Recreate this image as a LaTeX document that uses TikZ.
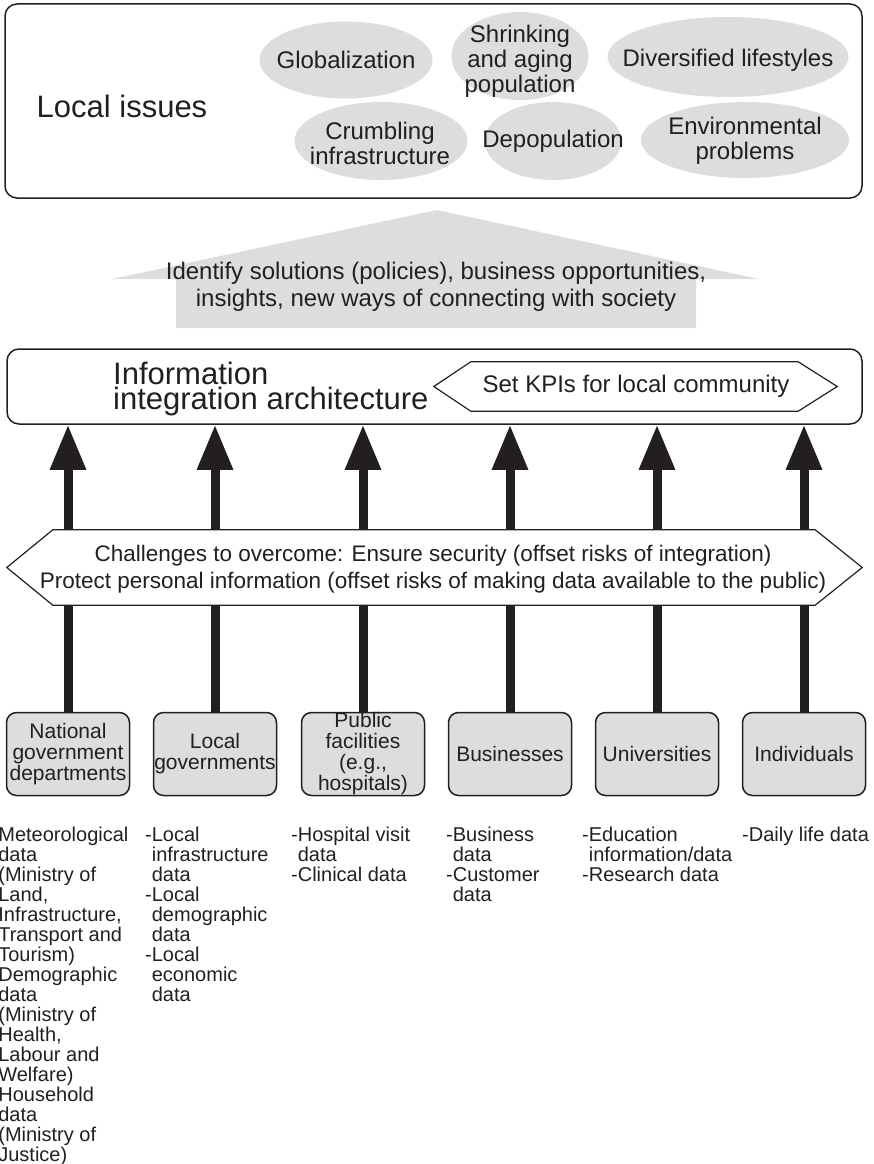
\documentclass[tikz,border=0pt]{standalone}
\usepackage{fontspec}
\setmainfont{Liberation Sans}
\usetikzlibrary{arrows.meta,shapes.geometric}
\definecolor{ink}{HTML}{231F20}
\definecolor{lgray}{HTML}{DCDDDE}
\newcommand\hangsp{\phantom{-}}
\begin{document}
\begin{tikzpicture}[x=1pt,y=-1pt,
  bigbox/.style={draw=ink, line width=1.5pt, rounded corners=12pt, inner sep=0pt},
  ell/.style={ellipse, fill=lgray, inner sep=0pt},
  etext/.style={font=\fontsize{24}{25}\selectfont, align=center, inner sep=0pt, text=ink},
  srcbox/.style={draw=ink, line width=1.5pt, fill=lgray, rounded corners=10pt, minimum width=123pt, minimum height=83pt, inner sep=0pt, font=\fontsize{21}{21}\selectfont, align=center, text=ink},
  datatext/.style={font=\fontsize{20}{20}\selectfont, align=left, anchor=north west, inner sep=0pt, text=ink},
  blk/.style={draw=ink, line width=9pt},
  hexline/.style={draw=ink, line width=1.2pt, fill=white},
]
\clip (0,0) rectangle (874,1164);

% ---- Local issues box
\node[bigbox, minimum width=857pt, minimum height=194pt] (issues) at (433.5,101) {};
\node[etext, font=\fontsize{31}{31}\selectfont] (li) at (122,106) {Local issues};

\node[ell, minimum width=173pt, minimum height=77pt] (e1) at (346,60) {};
\node[etext] at (e1) {Globalization};
\node[ell, minimum width=137pt, minimum height=88pt] (e2) at (520,56) {};
\node[etext] at (520,61) {Shrinking\\and aging\\population};
\node[ell, minimum width=241pt, minimum height=80pt] (e3) at (728,57) {};
\node[etext] at (728,60) {Diversified lifestyles};
\node[ell, minimum width=173pt, minimum height=78pt] (e4) at (381,141) {};
\node[etext] at (380,143) {Crumbling\\infrastructure};
\node[ell, minimum width=137pt, minimum height=78pt] (e5) at (553,141) {};
\node[etext] at (e5) {Depopulation};
\node[ell, minimum width=208pt, minimum height=76pt] (e6) at (745,140) {};
\node[etext] at (745,141) {Environmental\\problems};

% ---- big gray arrow
\fill[lgray] (112,279) -- (437,210) -- (759,279) -- (696,279) -- (696,328) -- (176,328) -- (176,279) -- cycle;
\node[etext, font=\fontsize{24}{27}\selectfont] (ident) at (436,287) {Identify solutions (policies), business opportunities,\\insights, new ways of connecting with society};

% ---- information integration architecture
\node[bigbox, minimum width=855pt, minimum height=75pt] (info) at (434.5,386.5) {};
\node[minimum width=327pt, minimum height=49pt, inner sep=0pt] (kpi) at (634.5,386.5) {};
\draw[hexline] (kpi.north west) -- (kpi.north east) -- ([xshift=39pt]kpi.east) -- (kpi.south east) -- (kpi.south west) -- ([xshift=-37pt]kpi.west) -- cycle;
\node[etext] at (636,386) {Set KPIs for local community};
\node[etext, font=\fontsize{31}{25}\selectfont, align=left, anchor=west] (infot) at (113,389) {Information\\integration architecture};

% ---- challenges
\node[minimum width=762pt, minimum height=75pt, inner sep=0pt] (chal) at (434,567.5) {};
\draw[hexline] (chal.north west) -- (chal.north east) -- ([xshift=47pt]chal.east) -- (chal.south east) -- (chal.south west) -- ([xshift=-46pt]chal.west) -- cycle;
\node[etext, font=\fontsize{22.5}{26.5}\selectfont] at (433,569) {Challenges to overcome: Ensure security (offset risks of integration)\\Protect personal information (offset risks of making data available to the public)};

% ---- sources
\node[srcbox] (s1) at (68,754) {National\\government\\departments};
\node[srcbox] (s2) at (215,754) {Local\\governments};
\node[srcbox] (s3) at (363,754) {Public\\facilities\\(e.g.,\\hospitals)};
\node[srcbox] (s4) at (510,754) {Businesses};
\node[srcbox] (s5) at (657,754) {Universities};
\node[srcbox] (s6) at (804,754) {Individuals};

\foreach \s in {s1,s2,s3,s4,s5,s6} {
  \draw[blk, -{Triangle[width=34pt,length=45pt]}] (chal.north -| \s) -- (info.south -| \s);
  \draw[blk] (\s.north) -- (chal.south -| \s);
}

% ---- data lists
\node[datatext] (d1) at (-8.5,826.5) {-Meteorological\\\hangsp data\\\hangsp(Ministry of\\\hangsp Land,\\\hangsp Infrastructure,\\\hangsp Transport and\\\hangsp Tourism)\\-Demographic\\\hangsp data\\\hangsp(Ministry of\\\hangsp Health,\\\hangsp Labour and\\\hangsp Welfare)\\-Household\\\hangsp data\\\hangsp(Ministry of\\\hangsp Justice)};
\node[datatext] (d2) at (145,826.5) {-Local\\\hangsp infrastructure\\\hangsp data\\-Local\\\hangsp demographic\\\hangsp data\\-Local\\\hangsp economic\\\hangsp data};
\node[datatext] (d3) at (291,826.5) {-Hospital visit\\\hangsp data\\-Clinical data};
\node[datatext] (d4) at (446,826.5) {-Business\\\hangsp data\\-Customer\\\hangsp data};
\node[datatext] (d5) at (582,826.5) {-Education\\\hangsp information/data\\-Research data};
\node[datatext] (d6) at (742,826.5) {-Daily life data};
\end{tikzpicture}
\end{document}
